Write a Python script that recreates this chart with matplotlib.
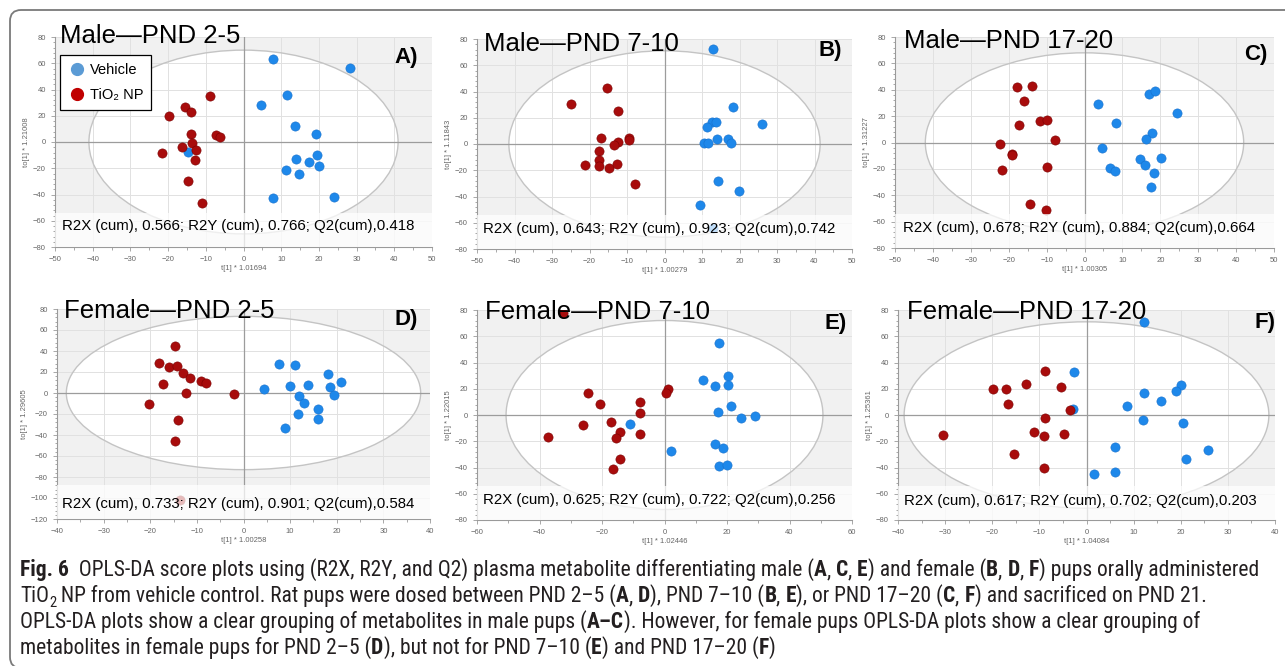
import re
import os
import matplotlib
matplotlib.use("Agg")
import matplotlib.pyplot as plt
import matplotlib.transforms as mtransforms
from matplotlib import font_manager
from matplotlib.font_manager import FontProperties
from matplotlib.patches import Ellipse, Rectangle, FancyBboxPatch
from matplotlib.lines import Line2D
from matplotlib.ticker import MultipleLocator, AutoMinorLocator

# ---- A) Male PND 2-5
a_veh_x = [7.9, 28.2, 11.6, 4.6, 13.7, 19.1, 19.5, 14.0, 17.4, 20.1, 11.2, 14.6, 7.9, 23.9, -14.7]
a_veh_y = [63.2, 56.4, 36.1, 28.2, 12.4, 5.8, -9.7, -13.0, -15.5, -18.0, -21.6, -24.1, -42.9, -41.7, -7.4]
a_tio_x = [-8.8, -15.5, -13.8, -19.7, -13.8, -7.3, -6.2, -13.6, -16.2, -12.5, -21.6, -12.9, -14.6, -11.0]
a_tio_y = [34.8, 26.7, 22.6, 19.6, 6.1, 5.3, 3.8, -0.8, -3.6, -6.3, -8.4, -13.5, -29.5, -46.5]

# ---- B) Male PND 7-10
b_veh_x = [13.0, 18.3, 26.1, 12.6, 13.6, 11.4, 14.1, 17.0, 17.6, 10.6, 11.7, 14.3, 19.8, 9.4, 12.8]
b_veh_y = [72.4, 28.4, 15.2, 17.0, 17.0, 13.2, 3.8, 4.1, 1.0, 0.5, 0.5, -28.2, -36.1, -46.5, -64.3]
b_tio_x = [-15.4, -24.9, -12.3, -16.9, -9.5, -9.6, -12.3, -13.5, -17.6, -17.6, -21.2, -17.4, -14.8, -12.6, -7.8]
b_tio_y = [42.9, 30.2, 25.4, 4.8, 4.8, 3.0, 1.3, -0.5, -5.3, -12.2, -16.0, -16.5, -18.0, -15.0, -30.7]

# ---- C) Male PND 17-20
c_veh_x = [3.6, 16.9, 18.7, 24.4, 8.2, 17.8, 16.2, 4.7, 20.3, 14.7, 16.0, 6.6, 8.1, 18.4, 17.6]
c_veh_y = [29.2, 37.0, 39.0, 22.4, 14.5, 7.2, 2.7, -4.3, -12.0, -12.5, -17.3, -19.6, -21.4, -22.9, -33.8]
c_tio_x = [-17.8, -13.9, -15.9, -17.4, -11.7, -9.8, -7.7, -22.3, -19.1, -19.0, -21.7, -10.0, -14.3, -10.2]
c_tio_y = [41.8, 42.6, 31.7, 13.0, 16.0, 17.1, 2.0, -1.1, -8.5, -9.7, -21.1, -18.6, -46.6, -51.4]

# ---- D) Female PND 2-5
d_veh_x = [7.7, 11.1, 18.1, 21.0, 10.0, 13.9, 18.5, 4.5, 11.9, 19.5, 13.0, 16.0, 11.7, 16.0, 9.0]
d_veh_y = [27.9, 26.7, 18.1, 10.8, 6.7, 7.3, 6.0, 3.8, -3.2, -1.6, -9.2, -15.2, -19.7, -25.1, -33.3]
d_tio_x = [-14.6, -18.2, -16.0, -14.2, -12.9, -11.5, -9.2, -8.1, -17.3, -12.3, -2.1, -20.3, -14.1, -14.6, -13.7]
d_tio_y = [44.4, 28.9, 24.8, 25.7, 19.0, 14.3, 11.4, 9.8, 8.3, -0.3, -1.0, -10.5, -25.7, -46.0, -101.6]

# ---- E) Female PND 7-10
e_veh_x = [17.3, 20.3, 20.2, 12.4, 16.1, 21.3, 17.2, 24.5, 29.1, -11.2, 16.3, 18.6, 2.1, 17.5, 20.1]
e_veh_y = [55.1, 30.0, 22.6, 26.4, 22.1, 7.1, 2.3, -2.0, -1.0, -6.9, -22.4, -25.1, -27.4, -39.1, -38.3]
e_tio_x = [-32.5, -24.4, 1.1, 0.5, -20.8, -8.0, -8.0, -26.1, -17.2, -14.4, -15.5, -7.9, -37.4, -14.4, -16.6]
e_tio_y = [78.0, 16.8, 19.8, 17.0, 8.1, 10.2, 1.5, -7.4, -5.6, -13.2, -17.5, -14.7, -17.0, -33.3, -41.4]

# ---- F) Female PND 17-20
f_veh_x = [12.3, -2.7, 20.1, 18.9, 12.3, 15.9, 8.7, -2.9, 12.0, 20.4, 6.1, 25.8, 21.2, 6.0, 1.5]
f_veh_y = [71.1, 32.5, 23.1, 18.0, 16.5, 10.4, 6.9, 4.6, -4.1, -5.8, -24.6, -26.7, -33.8, -43.4, -45.2]
f_tio_x = [-8.8, -19.9, -17.1, -12.8, -5.5, -16.6, -3.5, -8.8, -11.1, -9.1, -4.7, -30.4, -15.3, -9.1]
f_tio_y = [33.5, 20.1, 19.6, 23.9, 21.3, 8.6, 4.1, -2.3, -13.2, -16.0, -14.7, -15.0, -29.5, -40.4]

titles = ["Male\u2014PND 2-5", "Male\u2014PND 7-10", "Male\u2014PND 17-20",
          "Female\u2014PND 2-5", "Female\u2014PND 7-10", "Female\u2014PND 17-20"]
letters = ["A)", "B)", "C)", "D)", "E)", "F)"]
stats = [(0.566, 0.766, 0.418), (0.643, 0.923, 0.742), (0.678, 0.884, 0.664),
         (0.733, 0.901, 0.584), (0.625, 0.722, 0.256), (0.617, 0.702, 0.203)]
x_scales = ["1.01694", "1.00279", "1.00305", "1.00258", "1.02446", "1.04084"]
y_scales = ["1.21008", "1.11843", "1.31227", "1.29605", "1.22015", "1.25361"]
ellipse_axes = [(41, 70), (41.5, 71), (42, 68), (38, 73), (50.7, 72), (38.7, 71)]

# caption, **bold**, ~subscript~
caption = [
    "**Fig. 6**  OPLS-DA score plots using (R2X, R2Y, and Q2) plasma metabolite differentiating male "
    "(**A**, **C**, **E**) and female (**B**, **D**, **F**) pups orally administered",
    "TiO~2~ NP from vehicle control. Rat pups were dosed between PND 2\u20135 (**A**, **D**), "
    "PND 7\u201310 (**B**, **E**), or PND 17\u201320 (**C**, **F**) and sacrificed on PND 21.",
    "OPLS-DA plots show a clear grouping of metabolites in male pups (**A\u2013C**). "
    "However, for female pups OPLS-DA plots show a clear grouping of",
    "metabolites in female pups for PND 2\u20135 (**D**), but not for PND 7\u201310 (**E**) "
    "and PND 17\u201320 (**F**)",
]

# layout table: pixel box (left, top, right, bottom), limits, text positions
W, H = 1285, 666
panels = [
    dict(box=(55, 37, 432, 247), xlim=(-50, 50), ylim=(-80, 80), xstep=10,
         veh=(a_veh_x, a_veh_y), tio=(a_tio_x, a_tio_y),
         tpos=(0.013, 0.971), lpos=(0.963, 0.878), spos=(0.019, 0.081)),
    dict(box=(477, 39, 852, 249), xlim=(-50, 50), ylim=(-80, 80), xstep=10,
         veh=(b_veh_x, b_veh_y), tio=(b_tio_x, b_tio_y),
         tpos=(0.019, 0.943), lpos=(0.973, 0.920), spos=(0.016, 0.076)),
    dict(box=(895, 37, 1274, 248), xlim=(-50, 50), ylim=(-80, 80), xstep=10,
         veh=(c_veh_x, c_veh_y), tio=(c_tio_x, c_tio_y),
         tpos=(0.024, 0.948), lpos=(0.982, 0.890), spos=(0.021, 0.076)),
    dict(box=(57, 309, 430, 519), xlim=(-40, 40), ylim=(-120, 80), xstep=10,
         veh=(d_veh_x, d_veh_y), tio=(d_tio_x, d_tio_y),
         tpos=(0.019, 0.957), lpos=(0.968, 0.924), spos=(0.013, 0.052)),
    dict(box=(477, 310, 852, 520), xlim=(-60, 60), ylim=(-80, 80), xstep=20,
         veh=(e_veh_x, e_veh_y), tio=(e_tio_x, e_tio_y),
         tpos=(0.021, 0.957), lpos=(0.987, 0.910), spos=(0.016, 0.076)),
    dict(box=(898, 310, 1275, 520), xlim=(-40, 40), ylim=(-80, 80), xstep=10,
         veh=(f_veh_x, f_veh_y), tio=(f_tio_x, f_tio_y),
         tpos=(0.024, 0.957), lpos=(1.0, 0.914), spos=(0.016, 0.071)),
]

BLUE = "#1e88ea"
RED = "#a80c0c"


def weight_of(f):
    w = f.weight
    if isinstance(w, str):
        w = font_manager.weight_dict.get(w, 400)
    return w


def narrow_font(bold):
    # look for an installed condensed sans face, fall back to Liberation Sans
    prefs = ["liberation sans narrow", "roboto condensed", "open sans condensed",
             "dejavu sans condensed", "noto sans condensed", "condensed", "narrow"]
    best, rank = None, len(prefs)
    for f in font_manager.fontManager.ttflist:
        tag = (f.name + " " + os.path.basename(f.fname)).lower().replace("-", " ")
        if f.style != "normal" or "semi" in tag or "extra" in tag:
            continue
        if (weight_of(f) >= 600) != bold:
            continue
        for k, key in enumerate(prefs):
            if (key in tag or key.replace(" ", "") in tag.replace(" ", "")) and k < rank:
                best, rank = f.fname, k
    if best is None:
        return FontProperties(family="Liberation Sans", weight="bold" if bold else "normal")
    return FontProperties(fname=best)


plt.rcParams["font.family"] = ["Liberation Sans", "DejaVu Sans"]

fig = plt.figure(figsize=(W / 100, H / 100), dpi=100)

for i, p in enumerate(panels):
    l, t, r, b = p["box"]
    ax = fig.add_axes([l / W, (H - b) / H, (r - l) / W, (b - t) / H])
    ax.set_facecolor("#f1f1f1")
    ax.set_xlim(*p["xlim"])
    ax.set_ylim(*p["ylim"])
    ax.xaxis.set_major_locator(MultipleLocator(p["xstep"]))
    ax.xaxis.set_minor_locator(AutoMinorLocator(2))
    ax.yaxis.set_major_locator(MultipleLocator(20))
    ax.yaxis.set_minor_locator(AutoMinorLocator(5))
    for s in ["top", "right"]:
        ax.spines[s].set_visible(False)
    for s in ["left", "bottom"]:
        ax.spines[s].set_color("#9a9a9a")
        ax.spines[s].set_linewidth(0.8)
    ax.tick_params(which="both", colors="#9a9a9a", labelcolor="#666666",
                   labelsize=5.5, width=0.6)
    ax.tick_params(which="major", length=3)
    ax.tick_params(which="minor", length=1.8)
    ax.set_axisbelow(True)
    ax.grid(True, which="major", color="#e1e1e1", lw=0.7)

    ea, eb = ellipse_axes[i]
    ax.add_patch(Ellipse((0, 0), 2 * ea, 2 * eb, fc="white", ec="none", zorder=0.2))
    ax.add_patch(Ellipse((0, 0), 2 * ea, 2 * eb, fc="none", ec="#c4c4c4", lw=1.0, zorder=1.2))
    ax.axhline(0, color="#9c9c9c", lw=0.9, zorder=1.5)
    ax.axvline(0, color="#9c9c9c", lw=0.9, zorder=1.5)

    ax.scatter(p["veh"][0], p["veh"][1], s=44, c=BLUE, edgecolors="#1670cc",
               linewidths=0.4, zorder=2.5)
    ax.scatter(p["tio"][0], p["tio"][1], s=44, c=RED, edgecolors="#7a0000",
               linewidths=0.4, zorder=2.6)

    ax.add_patch(Rectangle((0, 0), 1, 0.16, transform=ax.transAxes,
                           fc="white", ec="none", alpha=0.72, zorder=3))
    r2x, r2y, q2 = stats[i]
    ax.text(p["spos"][0], p["spos"][1],
            "R2X (cum), %.3f; R2Y (cum), %.3f; Q2(cum),%.3f" % (r2x, r2y, q2),
            transform=ax.transAxes, fontsize=10.8, va="baseline", ha="left", zorder=4)
    ax.text(p["tpos"][0], p["tpos"][1], titles[i], transform=ax.transAxes,
            fontsize=18.5, va="baseline", ha="left", zorder=4)
    ax.text(p["lpos"][0], p["lpos"][1], letters[i], transform=ax.transAxes,
            fontsize=16, fontweight="bold", va="baseline", ha="right", zorder=4)

    ax.set_xlabel("t[1] * " + x_scales[i], fontsize=5.5, color="#666666", labelpad=1.5)
    ax.set_ylabel("to[1] * " + y_scales[i], fontsize=5.5, color="#666666", labelpad=2)

    if i == 0:
        handles = [Line2D([], [], ls="none", marker="o", ms=8.5, mfc="#5b9bd5", mec="#5b9bd5"),
                   Line2D([], [], ls="none", marker="o", ms=8.5, mfc="#c00000", mec="#c00000")]
        leg = ax.legend(handles, ["Vehicle", "TiO\u2082 NP"], loc="upper left",
                        bbox_to_anchor=(0.013, 0.914), borderaxespad=0, fontsize=10.5,
                        fancybox=False, framealpha=1, edgecolor="black",
                        handletextpad=0.3, handlelength=1.2, borderpad=0.55,
                        labelspacing=0.75)
        leg.get_frame().set_linewidth(0.9)
        leg.set_zorder(5)

# outer rounded frame (pixel coordinates)
frame = FancyBboxPatch((10, -2), 1300, 658, boxstyle="round,pad=0,rounding_size=11",
                       transform=mtransforms.IdentityTransform(),
                       fc="none", ec="#7a7a7a", lw=1.3)
fig.add_artist(frame)

# caption, drawn piece by piece so that bold letters and the subscript fit in
reg_font = narrow_font(False)
bold_font = narrow_font(True)
renderer = fig.canvas.get_renderer()


def piece_width(s, prop, size):
    pr = prop.copy()
    pr.set_size(size)
    w1 = renderer.get_text_width_height_descent("|" + s + "|", pr, ismath=False)[0]
    w0 = renderer.get_text_width_height_descent("||", pr, ismath=False)[0]
    return w1 - w0


def pieces(line):
    out = []
    for part in re.split(r"(\*\*.+?\*\*|~.+?~)", line):
        if not part:
            continue
        if part.startswith("**"):
            out.append((part[2:-2], bold_font, 1.0, 0.0))
        elif part.startswith("~"):
            out.append((part[1:-1], reg_font, 0.68, -0.22))
        else:
            out.append((part, reg_font, 1.0, 0.0))
    return out


base_size = 12.0
w_line = sum(piece_width(s, pr, base_size * k) for s, pr, k, _ in pieces(caption[0]))
size = base_size * (1262 - 20) / w_line

cap_base = [576, 602, 628, 654]
for line, yb in zip(caption, cap_base):
    x = 20.0
    for s, pr, k, dy in pieces(line):
        fig.text(x / W, (H - yb + dy * size * 100 / 72) / H, s, fontproperties=pr,
                 fontsize=size * k, color="#231f20", va="baseline", ha="left")
        x += piece_width(s, pr, size * k)

fig.savefig("out.png", dpi=100)
